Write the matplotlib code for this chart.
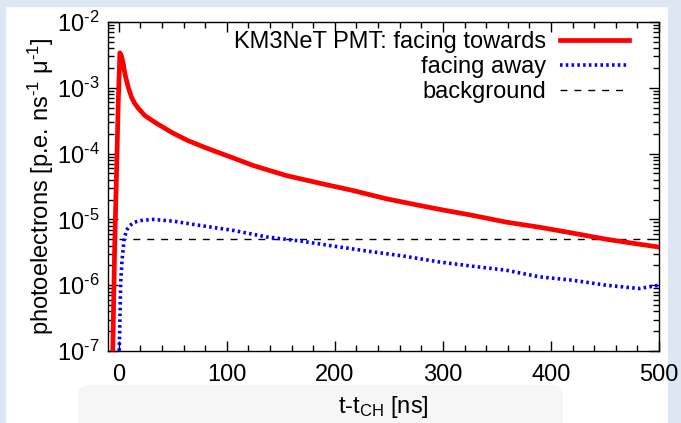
import matplotlib
matplotlib.use("Agg")
import matplotlib.pyplot as plt
from matplotlib.ticker import LogLocator, MultipleLocator, NullFormatter, FixedLocator
from matplotlib.patches import Rectangle, FancyBboxPatch

# ---- data ----
t_towards = [-7, -5.6, -3.8, -2, -0.5, 1, 2.5, 4.2, 5.7, 8.8, 11.9, 15, 18, 24.2, 33.5,
             48.9, 64.2, 79.7, 93.5, 105.8, 124.3, 155, 185.9, 216.7, 247.6, 278.4,
             297, 327.6, 358.5, 389.3, 420, 451, 481.7, 500]
pe_towards = [2e-8, 1e-7, 4e-6, 6e-5, 6e-4, 3.4e-3, 3.0e-3, 2.29e-3, 1.61e-3, 1.01e-3,
              7.1e-4, 5.7e-4, 4.9e-4, 3.77e-4, 2.98e-4, 2.1e-4, 1.57e-4, 1.24e-4,
              1.02e-4, 8.6e-5, 6.6e-5, 4.64e-5, 3.55e-5, 2.75e-5, 2.06e-5, 1.63e-5,
              1.42e-5, 1.15e-5, 9.1e-6, 7.6e-6, 6.2e-6, 5.0e-6, 4.2e-6, 3.8e-6]

t_away = [-1.0, 0.5, 1.1, 1.7, 3.0, 4.8, 7, 10.4, 14, 19.6, 31.6, 50.4, 75, 106, 137,
          168, 200, 230, 265, 297, 327.6, 358.5, 389.3, 420, 451, 481.7, 495.6, 500]
pe_away = [3e-8, 1.2e-7, 3.3e-7, 1.07e-6, 2.4e-6, 4.8e-6, 6.8e-6, 8.1e-6, 9.0e-6, 9.6e-6,
           1.0e-5, 9.4e-6, 8.1e-6, 6.8e-6, 5.4e-6, 4.7e-6, 3.9e-6, 3.3e-6, 2.75e-6,
           2.25e-6, 1.94e-6, 1.69e-6, 1.34e-6, 1.19e-6, 1.0e-6, 8.9e-7, 9.7e-7, 1.0e-6]

t_bg = [0, 500]
pe_bg = [5e-6, 5e-6]

labels = ["KM3NeT PMT: facing towards", "facing away", "background"]
x_ticks = [0, 100, 200, 300, 400, 500]
y_ticks = [1e-7, 1e-6, 1e-5, 1e-4, 1e-3, 1e-2]
y_exponents = [7, 6, 5, 4, 3, 2]

plt.rcParams['font.family'] = ['Liberation Sans', 'DejaVu Sans']
plt.rcParams['mathtext.fontset'] = 'custom'
plt.rcParams['mathtext.rm'] = 'Liberation Sans'
plt.rcParams['mathtext.it'] = 'Liberation Sans:italic'
plt.rcParams['mathtext.bf'] = 'Liberation Sans:bold'

W, H = 681, 423
fig = plt.figure(figsize=(W / 100, H / 100), dpi=100)
fig.patch.set_facecolor('white')

# page background strips (screenshot surroundings)
bg_blue = '#dce7f3'
fig.patches.append(Rectangle((0, 0), 5 / W, 1, transform=fig.transFigure, color=bg_blue, zorder=0))
fig.patches.append(Rectangle((0, 1 - 6 / H), 1, 6 / H, transform=fig.transFigure, color=bg_blue, zorder=0))
fig.patches.append(Rectangle((668 / W, 0), 1 - 668 / W, 1, transform=fig.transFigure, color=bg_blue, zorder=0))
fig.patches.append(FancyBboxPatch((78 / W, -20 / H), 485 / W, 58 / H,
                                  boxstyle="round,pad=0,rounding_size=0.02",
                                  transform=fig.transFigure, facecolor='#f6f6f6',
                                  edgecolor='none', zorder=0))

ax = fig.add_axes([108 / W, (H - 351) / H, (659 - 108) / W, (351 - 22) / H])
ax.set_zorder(2)

ax.plot(t_bg, pe_bg, color='black', lw=1.0, ls=(0, (5, 5)), label=labels[2], zorder=2)
ax.plot(t_away, pe_away, color='#0000ff', lw=2.6, ls=(0, (0.7, 0.9)), label=labels[1], zorder=3)
ax.plot(t_towards, pe_towards, color='#ff0000', lw=3.4, label=labels[0], zorder=4)

ax.set_yscale('log')
ax.set_xlim(-10, 500)
ax.set_ylim(1e-7, 1e-2)

ax.xaxis.set_major_locator(FixedLocator(x_ticks))
ax.xaxis.set_minor_locator(MultipleLocator(20))
ax.yaxis.set_major_locator(FixedLocator(y_ticks))
ax.yaxis.set_minor_locator(LogLocator(base=10, subs=range(2, 10), numticks=20))
ax.yaxis.set_minor_formatter(NullFormatter())
ax.set_yticklabels([r'$\mathdefault{10^{\text{-}%d}}$' % k for k in y_exponents])

ax.tick_params(which='both', direction='in', top=True, right=True, labelsize=17, width=1)
ax.tick_params(which='major', length=7)
ax.tick_params(which='minor', length=4)
ax.tick_params(axis='x', pad=9)
ax.tick_params(axis='y', pad=6)
for s in ax.spines.values():
    s.set_linewidth(1.0)

ax.set_xlabel(r't-t$_{\mathdefault{CH}}$ [ns]', fontsize=17, labelpad=6)
ax.set_ylabel(r'photoelectrons [p.e. ns$^{\mathdefault{\text{-}1}}$ μ$^{\mathdefault{\text{-}1}}$]',
              fontsize=17, labelpad=1)

handles, labs = ax.get_legend_handles_labels()
order = [2, 1, 0]
leg = ax.legend([handles[i] for i in order], [labs[i] for i in order],
                loc='upper right', bbox_to_anchor=(0.962, 1.0), frameon=False,
                markerfirst=False, fontsize=17, handlelength=2.9, handletextpad=0.6,
                labelspacing=0.12, borderaxespad=0.2, borderpad=0.2)

fig.savefig('out.png', dpi=100)
